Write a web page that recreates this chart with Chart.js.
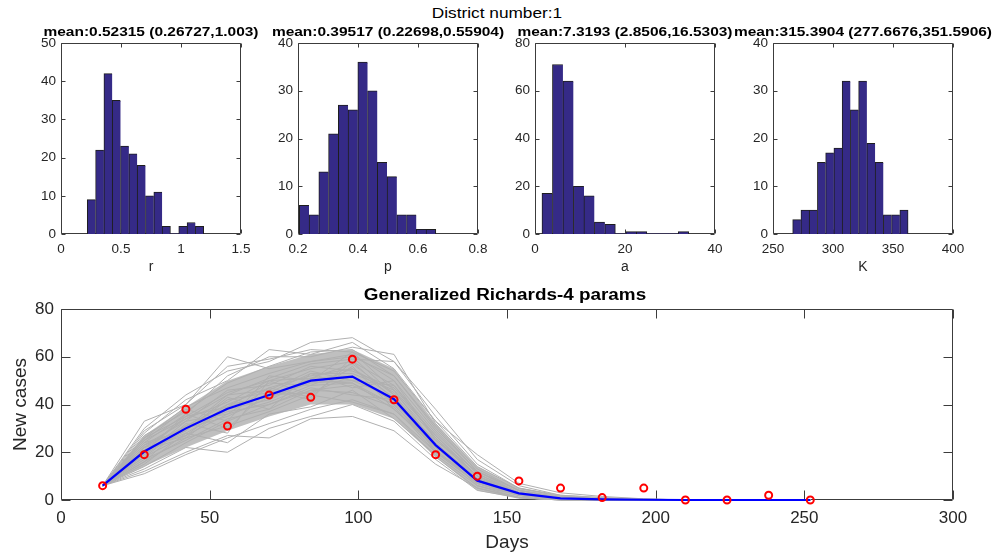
<!DOCTYPE html>
<html>
<head>
<meta charset="utf-8">
<script src="https://cdn.jsdelivr.net/npm/chart.js@4.4.0/dist/chart.umd.min.js"></script>
<style>
  body { margin: 0; background: #fff; width: 995px; height: 558px; overflow: hidden; position: relative;
         font-family: 'Liberation Sans', Arial, Helvetica, sans-serif; }
  canvas { position: absolute; }
  .lbl { position: absolute; white-space: nowrap; line-height: 1; color: #000; z-index: 2; }
</style>
</head>
<body>
<div class="lbl" style="left:497px;top:4.5px;font-size:15px;transform:translateX(-50%) scaleX(1.15);">District number:1</div>
<div class="lbl" style="left:151px;top:25px;font-size:13px;font-weight:bold;transform:translateX(-50%) scaleX(1.19);">mean:0.52315 (0.26727,1.003)</div>
<div class="lbl" style="left:388px;top:25px;font-size:13px;font-weight:bold;transform:translateX(-50%) scaleX(1.19);">mean:0.39517 (0.22698,0.55904)</div>
<div class="lbl" style="left:625px;top:25px;font-size:13px;font-weight:bold;transform:translateX(-50%) scaleX(1.19);">mean:7.3193 (2.8506,16.5303)</div>
<div class="lbl" style="left:863px;top:25px;font-size:13px;font-weight:bold;transform:translateX(-50%) scaleX(1.19);">mean:315.3904 (277.6676,351.5906)</div>
<div class="lbl" style="left:505px;top:287px;font-size:16px;font-weight:bold;transform:translateX(-50%) scaleX(1.18);">Generalized Richards-4 params</div>

<canvas id="histR" width="245" height="249" style="left:16px;top:29px"></canvas>
<canvas id="histP" width="245" height="249" style="left:253px;top:29px"></canvas>
<canvas id="histA" width="245" height="249" style="left:490px;top:29px"></canvas>
<canvas id="histK" width="245" height="249" style="left:728px;top:29px"></canvas>
<canvas id="fitChart" width="974" height="265" style="left:9px;top:291px"></canvas>

<script>
// bootstrap histograms: bin counts, first bin edge and bin width
const rCounts = [9, 22, 42, 35, 23, 21, 18, 10, 11, 2, 0, 2, 3, 2];
const rBins = [0.219, 0.0693];
const pCounts = [6, 4, 13, 21, 27, 26, 36, 30, 15, 12, 4, 4, 1, 1];
const pBins = [0.2044, 0.0325];
const aCounts = [17, 71, 64, 20, 16, 5, 4, 0, 1, 1, 0, 0, 0, 1];
const aBins = [1.547, 2.33];
const kCounts = [3, 5, 5, 15, 17, 18, 32, 26, 32, 19, 15, 4, 4, 5];
const kBins = [266.4, 6.87];

// weekly new cases and the fitted curves
const days = [14, 28, 42, 56, 70, 84, 98, 112, 126, 140, 154, 168, 182, 196, 210, 224, 238, 252];
const reported = [6, 19, 38, 31, 44, 43, 59, 42, 19, 10, 8, 5, 1, 5, 0, 0, 2, 0];
const meanFit = [6, 20.3, 30, 38.2, 44, 50, 51.7, 42.2, 23, 8.1, 2.8, 0.7, 0.3, 0.1, 0, 0, 0, 0];
const bandLow = [6, 14, 22, 29, 35, 40, 40, 34, 18, 4, 0.5, 0, 0, 0, 0, 0, 0, 0];
const bandHigh = [6, 27, 39, 50, 56, 61, 63, 55, 32, 14, 5, 2, 0.7, 0.3, 0, 0, 0, 0];
const simCurves = [
  [6, 14, 24, 33, 40, 46, 48, 40, 22, 8, 2, 1, 0, 0, 0, 0, 0, 0],
  [6, 22, 31, 40, 47, 52, 55, 45, 26, 10, 3, 1, 0.5, 0, 0, 0, 0, 0],
  [6, 26, 35, 45, 50, 55, 58, 48, 28, 11, 3, 1, 0.5, 0, 0, 0, 0, 0],
  [6, 18, 27, 36, 41, 48, 49, 40, 21, 7, 2, 0.5, 0, 0, 0, 0, 0, 0],
  [6, 33, 40, 60, 55, 58, 60, 52, 30, 12, 4, 1, 0.5, 0, 0, 0, 0, 0],
  [6, 11, 19, 26, 32, 38, 42, 36, 18, 5, 1, 0, 0, 0, 0, 0, 0, 0],
  [6, 20, 36, 30, 46, 42, 60, 44, 20, 9, 3, 1, 0, 0, 0, 0, 0, 0],
  [6, 24, 29, 43, 38, 53, 47, 50, 25, 12, 3, 1, 0.5, 0, 0, 0, 0, 0],
  [6, 16, 32, 28, 50, 44, 56, 38, 23, 6, 2, 0.5, 0, 0, 0, 0, 0, 0],
  [6, 28, 42, 50, 63, 61, 66, 55, 33, 14, 5, 1.5, 0.5, 0, 0, 0, 0, 0],
  [6, 21, 26, 39, 44, 45, 52, 41, 24, 8, 2, 0.5, 0, 0, 0, 0, 0, 0],
  [6, 19, 30, 35, 43, 49, 50, 43, 22, 9, 3, 1, 0, 0, 0, 0, 0, 0],
  [6, 25, 38, 33, 52, 50, 62, 46, 27, 10, 3, 1, 0.5, 0, 0, 0, 0, 0],
  [6, 13, 22, 20, 30, 35, 40, 33, 17, 4, 1, 0, 0, 0, 0, 0, 0, 0],
  [6, 30, 44, 54, 58, 66, 68, 58, 35, 15, 5, 2, 1, 0.5, 0, 0, 0, 0],
  [6, 23, 33, 46, 48, 56, 54, 47, 27, 10, 3, 1, 0.5, 0, 0, 0, 0, 0],
  [6, 17, 25, 34, 38, 46, 45, 39, 20, 7, 2, 0.5, 0, 0, 0, 0, 0, 0],
  [6, 27, 37, 49, 56, 62, 63, 52, 31, 12, 4, 1, 0.5, 0, 0, 0, 0, 0],
  [6, 15, 28, 24, 36, 39, 46, 34, 19, 6, 1, 0, 0, 0, 0, 0, 0, 0],
  [6, 22, 34, 41, 50, 51, 57, 44, 24, 9, 3, 1, 0, 0, 0, 0, 0, 0],
  [6, 20, 29, 42, 45, 53, 53, 46, 23, 8, 2, 0.5, 0, 0, 0, 0, 0, 0],
  [6, 18, 31, 37, 40, 47, 44, 42, 21, 7, 2, 0.5, 0, 0, 0, 0, 0, 0],
  [6, 24, 36, 52, 60, 60, 64, 61, 32, 13, 4, 1, 0.5, 0, 0, 0, 0, 0],
  [6, 21, 28, 38, 42, 50, 49, 38, 22, 9, 2, 0.5, 0, 0, 0, 0, 0, 0],
  [6, 19, 33, 36, 47, 43, 58, 42, 25, 10, 3, 1, 0, 0, 0, 0, 0, 0],
  [6, 26, 39, 47, 53, 58, 61, 50, 29, 11, 3, 1, 0.5, 0, 0, 0, 0, 0],
  [6, 16, 26, 31, 37, 44, 41, 36, 20, 7, 2, 0.5, 0, 0, 0, 0, 0, 0],
  [6, 23, 30, 44, 46, 54, 50, 48, 26, 9, 3, 1, 0, 0, 0, 0, 0, 0],
  [6, 12, 20, 27, 26, 34, 35, 29, 15, 5, 1, 0, 0, 0, 0, 0, 0, 0],
  [6, 20, 35, 39, 49, 48, 55, 43, 24, 8, 2, 1, 0, 0, 0, 0, 0, 0],
  [6, 29, 40, 56, 59, 63, 62, 54, 33, 19, 7, 3, 1.5, 0.5, 0, 0, 0, 0],
  [6, 22, 27, 40, 43, 51, 52, 41, 22, 8, 2, 0.5, 0, 0, 0, 0, 0, 0],
  [6, 25, 34, 44, 51, 57, 59, 58, 38, 17, 6, 2, 1, 0, 0, 0, 0, 0]
];

Chart.defaults.font.family = "'Liberation Sans', Arial, Helvetica, sans-serif";
Chart.defaults.color = '#262626';

// box round the axes with inward ticks on all four sides, under the data
const matlabBox = {
  id: 'matlabBox',
  beforeDatasetsDraw(chart, args, opts) {
    const { ctx, chartArea: a, scales } = chart;
    const len = opts.tickLen || 5;
    const l = Math.round(a.left) + 0.5, r = Math.round(a.right) - 0.5;
    const t = Math.round(a.top) + 0.5, b = Math.round(a.bottom) - 0.5;
    ctx.save();
    ctx.strokeStyle = '#3c3c3c';
    ctx.lineWidth = 1;
    ctx.beginPath();
    scales.x.ticks.forEach((tk, i) => {
      const px = Math.round(scales.x.getPixelForTick(i)) + 0.5;
      ctx.moveTo(px, b); ctx.lineTo(px, b - len);
      ctx.moveTo(px, t); ctx.lineTo(px, t + len);
    });
    scales.y.ticks.forEach((tk, i) => {
      const py = Math.round(scales.y.getPixelForTick(i)) + 0.5;
      ctx.moveTo(l, py); ctx.lineTo(l + len, py);
      ctx.moveTo(r, py); ctx.lineTo(r - len, py);
    });
    ctx.rect(l, t, r - l, b - t);
    ctx.stroke();
    ctx.restore();
  }
};
Chart.register(matlabBox);

const plainNum = v => String(+Number(v).toFixed(4));
const noGrid = { display: false, drawTicks: false };

function histogram(id, counts, bins, xMin, xMax, xStep, yMax, yStep, label) {
  const [edge0, binW] = bins;
  const bars = counts.map((c, i) => ({ x: edge0 + binW * (i + 0.5), y: c }));
  return new Chart(document.getElementById(id), {
    type: 'bar',
    data: {
      datasets: [{
        data: bars,
        backgroundColor: '#352a87',
        borderColor: '#1e1e1e',
        borderSkipped: false,
        borderWidth: ctx => {
          const i = ctx.dataIndex;
          if (!counts[i]) return 0;
          return { left: 1, top: 1, bottom: 0, right: counts[i + 1] ? 0 : 1 };
        },
        barPercentage: 1,
        categoryPercentage: 1
      }]
    },
    options: {
      responsive: false,
      animation: false,
      events: [],
      layout: { padding: { left: 5, top: 14, right: 20, bottom: 0 } },
      plugins: { legend: { display: false }, tooltip: { enabled: false }, matlabBox: { tickLen: 4 } },
      scales: {
        x: {
          type: 'linear', min: xMin, max: xMax, offset: false,
          grid: noGrid, border: { display: false },
          ticks: { stepSize: xStep, padding: 7, maxRotation: 0, font: { size: 13.5 }, callback: plainNum },
          title: { display: true, text: label, font: { size: 14 }, padding: { top: 0, bottom: 2 } },
          afterFit: s => { s.height = 44; }
        },
        y: {
          min: 0, max: yMax,
          grid: noGrid, border: { display: false },
          ticks: { stepSize: yStep, padding: 5, font: { size: 13.5 } },
          afterFit: s => { s.width = 40; }
        }
      }
    }
  });
}

histogram('histR', rCounts, rBins, 0, 1.5, 0.5, 50, 10, 'r');
histogram('histP', pCounts, pBins, 0.2, 0.8, 0.2, 40, 10, 'p');
histogram('histA', aCounts, aBins, 0, 40, 20, 80, 20, 'a');
histogram('histK', kCounts, kBins, 250, 400, 50, 40, 10, 'K');

// fitted incidence: observed points, mean fit, simulated curves
const toXY = arr => days.map((d, i) => ({ x: d, y: arr[i] }));

const fitSets = [
  {
    data: toXY(reported), showLine: false, order: 0, clip: false,
    pointStyle: 'circle', pointRadius: 3.5, pointBorderWidth: 2,
    pointBorderColor: '#ff0000', pointBackgroundColor: 'rgba(0,0,0,0)'
  },
  { data: toXY(meanFit), borderColor: '#0000ff', borderWidth: 2.2, pointRadius: 0, order: 1, clip: false }
];
simCurves.forEach(c => {
  fitSets.push({ data: toXY(c), borderColor: '#b0b0b0', borderWidth: 1, pointRadius: 0, order: 2, clip: false });
});
fitSets.push({ data: toXY(bandLow), borderWidth: 0, pointRadius: 0, fill: false, order: 3 });
fitSets.push({ data: toXY(bandHigh), borderWidth: 0, pointRadius: 0, fill: '-1', backgroundColor: '#bfbfbf', order: 3 });

new Chart(document.getElementById('fitChart'), {
  type: 'line',
  data: { datasets: fitSets },
  options: {
    responsive: false,
    animation: false,
    events: [],
    layout: { padding: { left: 0, top: 18, right: 30, bottom: 0 } },
    plugins: { legend: { display: false }, tooltip: { enabled: false }, matlabBox: { tickLen: 9 } },
    scales: {
      x: {
        type: 'linear', min: 0, max: 300,
        grid: noGrid, border: { display: false },
        ticks: { stepSize: 50, padding: 8, maxRotation: 0, font: { size: 17 } },
        title: { display: true, text: 'Days', font: { size: 19 }, padding: { top: 0, bottom: 2 } },
        afterFit: s => { s.height = 56; }
      },
      y: {
        min: 0, max: 80,
        grid: noGrid, border: { display: false },
        ticks: { stepSize: 20, padding: 7, font: { size: 17 } },
        title: { display: true, text: 'New cases', font: { size: 19 }, padding: { top: 0, bottom: 0 } },
        afterFit: s => { s.width = 52; }
      }
    }
  }
});
</script>
</body>
</html>
